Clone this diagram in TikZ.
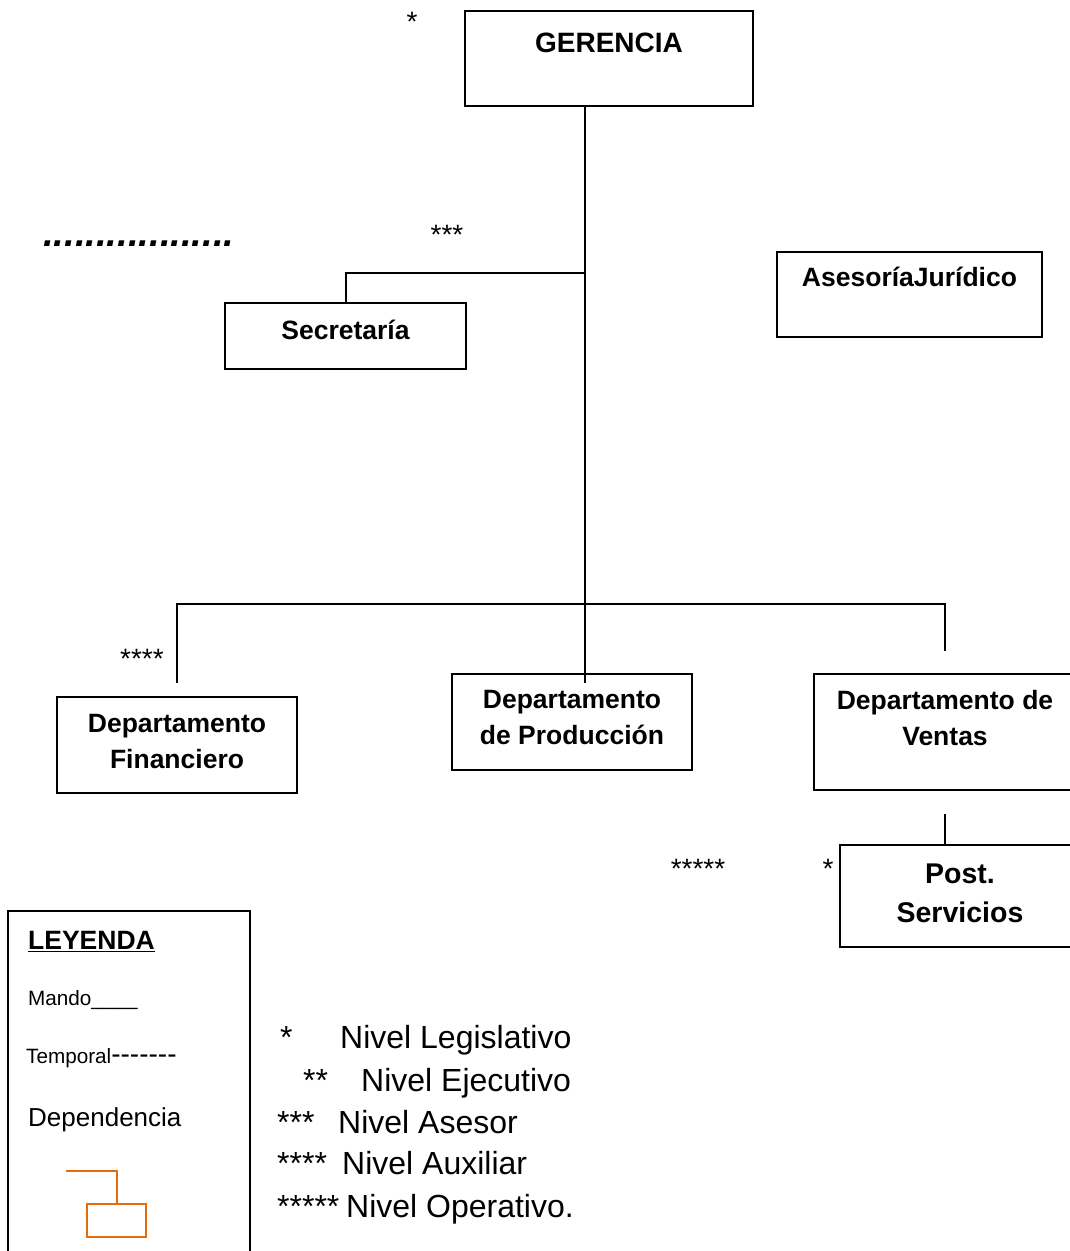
\documentclass[tikz,border=0pt]{standalone}
\usepackage{fontspec}
\setmainfont{Liberation Sans}
\usetikzlibrary{calc}
\definecolor{legorange}{RGB}{228,108,10}
\newcommand{\fs}[2]{\fontsize{#1}{#2}\selectfont}
\begin{document}
\begin{tikzpicture}[x=1pt,y=-1pt,
  orgbox/.style={draw, line width=2pt, inner sep=0pt},
  link/.style={line width=2pt},
  boxtext/.style={inner sep=0pt, font=\bfseries\fs{26.5}{36}, align=center},
  plaintext/.style={inner sep=0pt},
  starmark/.style={inner sep=0pt, font=\fs{28}{32}, anchor=base}]
\useasboundingbox (0,0) rectangle (1070,1251);

% ---- boxes of the chart ----
\node[orgbox, minimum width=288pt, minimum height=95pt] (ger) at (609,58.5) {};
\node[orgbox, minimum width=241pt, minimum height=66pt] (sec) at (345.5,336) {};
\node[orgbox, minimum width=265pt, minimum height=85pt] (ase) at (909.5,294.5) {};
\node[orgbox, minimum width=240pt, minimum height=96pt] (fin) at (177,745) {};
\node[orgbox, minimum width=240pt, minimum height=96pt] (prod) at (572,722) {};
\node[orgbox, minimum width=262pt, minimum height=116pt] (ven) at (945,732) {};
\node[orgbox, minimum width=240pt, minimum height=102pt] (post) at (960,896) {};

% ---- box titles ----
\node[boxtext, anchor=base, font=\bfseries\fs{28}{32}] (gert) at (609,52) {GERENCIA};
\node[boxtext, anchor=base] (sect) at (345.5,339.5) {Secretaría};
\node[boxtext, anchor=base] (aset) at (909.5,286.5) {AsesoríaJurídico};
\node[boxtext, anchor=north] (fint) at (177,714.5) {Departamento\\Financiero};
\node[boxtext, anchor=north] (prodt) at (572,690.5) {Departamento\\de Producción};
\node[boxtext, anchor=north] (vent) at (945,690.5) {Departamento de\\Ventas};
\node[boxtext, anchor=north, font=\bfseries\fs{28.5}{39}] (postt) at (960,864) {Post.\\Servicios};

% ---- connectors ----
\coordinate (trunk) at (585,604);
\coordinate (secj) at (585,273);
\coordinate (finstub) at ([yshift=13pt]fin.north);
\coordinate (venstub) at ([yshift=22pt]ven.north);
\draw[link] (ger.south -| trunk) -- (trunk) -- ([yshift=-10pt]prod.north -| trunk);
\draw[link] (sec.north) |- (secj);
\draw[link] (finstub) |- (trunk) -| (venstub);
\draw[link] ([yshift=-23pt]ven.south) -- (ven.south |- post.north);

% ---- level marks ----
\node[starmark] (s1) at (412,31) {*};
\node[starmark] (s3) at (447,244) {***};
\node[starmark] (s4) at (142,668) {****};
\node[starmark] (s5) at (698,878) {*****};
\node[starmark] (s1b) at (828,878) {*};
\node[plaintext, anchor=base west, font=\bfseries\itshape\fs{38.2}{40}] (dots) at (43,246) {..................};

% ---- legend ----
\node[orgbox, minimum width=242pt, minimum height=359pt] (leg) at (129,1090.5) {};
\node[plaintext, anchor=base west, font=\bfseries\fs{26.5}{30}] (legt) at (28,949.5) {\underline{LEYENDA}};
\node[plaintext, anchor=base west, font=\fs{20.7}{24}] (mando) at (28,1005.5) {Mando\_\_\_\_};
\node[plaintext, anchor=base west, font=\fs{20.7}{24}] (temp) at (26,1063.5) {Temporal{\fs{28}{30}-{}-{}-{}-{}-{}-{}-}};
\node[plaintext, anchor=base west, font=\fs{26}{30}] (dep) at (28,1126) {Dependencia};
\node[draw=legorange, line width=2pt, minimum width=59pt, minimum height=33pt, inner sep=0pt] (obox) at (116.5,1220.5) {};
\coordinate (ostart) at (66,1171);
\draw[legorange, line width=2pt] (ostart) -| (obox.north);

% ---- level list ----
\begin{scope}[every node/.style={plaintext, anchor=base west, font=\fs{32}{38}}]
\node (n1) at (280,1048.5) {\rlap{*}\hspace{60pt}Nivel Legislativo};
\node (n2) at (303,1091.5) {\rlap{**}\hspace{58pt}Nivel Ejecutivo};
\node (n3) at (277,1133.5) {\rlap{***}\hspace{61pt}Nivel Asesor};
\node (n4) at (277,1174.5) {\rlap{****}\hspace{65pt}Nivel Auxiliar};
\node (n5) at (277,1217.5) {\rlap{*****}\hspace{69pt}Nivel Operativo.};
\end{scope}
\end{tikzpicture}
\end{document}
